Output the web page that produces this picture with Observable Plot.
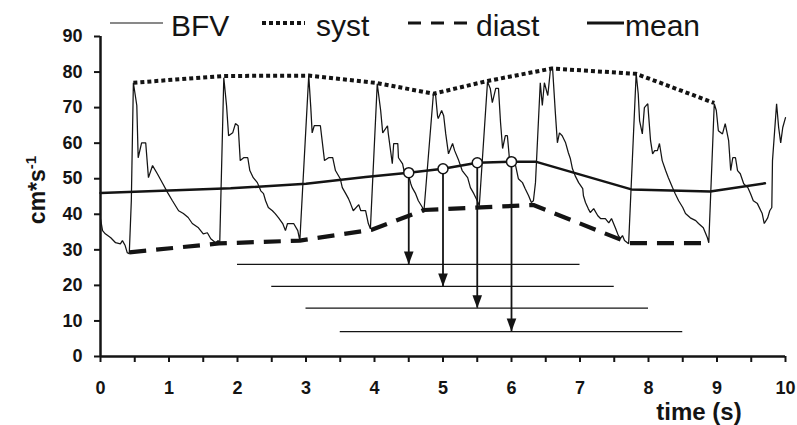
<!DOCTYPE html>
<html><head><meta charset="utf-8">
<script src="https://cdn.jsdelivr.net/npm/d3@7"></script>
<script src="https://cdn.jsdelivr.net/npm/@observablehq/plot@0.6"></script>
<style>
body{margin:0;background:#fff;}
#chart{width:797px;height:425px;}
</style></head><body><div id="chart"></div>
<script>
// ---- data ----
const bfvTime = [0,0.03,0.07,0.15,0.22,0.29,0.32,0.36,0.39,0.42,0.45,0.48,0.53,0.55,0.60,0.66,0.70,0.76,0.83,0.91,0.98,1.05,1.14,1.21,1.28,1.34,1.43,1.50,1.56,1.61,1.68,1.72,1.74,1.80,
1.84,1.87,1.93,1.97,2.01,2.04,2.09,2.15,2.18,2.23,2.29,2.34,2.38,2.41,2.45,2.51,2.55,2.60,2.66,2.70,2.73,2.82,2.88,2.91,3.04,
3.07,3.09,3.12,3.21,3.27,3.33,3.39,3.43,3.50,3.53,3.58,3.62,3.65,3.69,3.77,3.80,3.87,3.91,3.94,4.04,
4.09,4.12,4.19,4.20,4.26,4.28,4.34,4.35,4.41,4.44,4.50,4.53,4.55,4.60,4.64,4.70,4.72,4.86,
4.89,4.92,4.93,4.98,5.01,5.04,5.08,5.14,5.17,5.23,5.28,5.36,5.40,5.45,5.50,5.53,5.65,
5.69,5.72,5.77,5.81,5.84,5.87,5.91,5.94,5.97,6.01,6.06,6.10,6.16,6.20,6.25,6.29,6.32,6.35,6.42,6.45,6.48,6.53,6.57,
6.60,6.64,6.67,6.70,6.74,6.79,6.83,6.86,6.89,6.93,6.98,7.04,7.05,7.08,7.12,7.15,7.20,7.26,7.30,7.37,7.42,7.46,7.52,7.56,7.59,7.62,7.65,7.71,7.82,
7.85,7.87,7.91,7.94,7.99,8.00,8.03,8.06,8.09,8.13,8.16,8.20,8.25,8.29,8.35,8.39,8.44,8.50,8.54,8.61,8.69,8.73,8.80,8.86,8.88,8.96,
8.99,9.02,9.08,9.12,9.17,9.20,9.23,9.27,9.30,9.34,9.39,9.45,9.49,9.53,9.59,9.64,9.66,9.69,9.74,9.77,9.80,9.81,9.87,9.90,9.93,9.96,10.0];
const bfvValue = [38.7,35.4,34.5,33.4,32.0,31.7,32.6,31.2,29.2,28.9,43.8,77.0,70.6,55.9,60.1,60.1,50.3,53.7,51.4,48.6,46.1,43.8,41.0,40.2,39.1,37.4,36.2,34.5,34.8,33.1,32.0,32.6,31.4,78.4,
70.6,62.1,62.9,65.5,64.9,55.1,55.9,55.9,52.3,50.3,48.9,46.6,45.8,43.8,41.9,41.0,40.2,39.0,37.4,35.4,37.4,37.4,35.4,32.6,79.0,
70.0,62.9,64.9,64.9,55.1,55.9,55.9,52.3,50.0,47.5,45.8,44.4,43.0,41.0,42.7,41.0,41.0,37.4,35.9,76.7,
69.2,62.9,64.9,62.9,54.2,59.9,59.9,55.9,54.2,51.4,50.8,48.6,47.5,45.8,43.8,41.9,40.5,73.9,
73.9,67.7,66.9,69.2,67.7,62.6,57.0,59.9,57.9,55.1,52.3,50.3,47.5,45.8,43.8,42.4,77.3,
75.4,71.4,75.4,75.4,65.8,58.5,62.1,62.1,55.6,54.5,53.7,50.0,48.9,47.2,45.2,43.3,43.8,48.9,77.0,70.6,77.0,73.4,81.0,
81.0,68.6,60.1,62.9,62.1,60.1,57.3,55.6,52.8,50.8,48.9,47.2,45.2,43.3,41.6,40.5,41.6,39.6,38.8,38.8,37.6,38.8,36.0,34.0,33.2,34.0,32.6,31.7,79.6,
73.9,66.3,62.6,70.0,71.1,68.3,60.7,57.0,57.9,57.9,59.9,55.1,52.3,50.3,47.5,45.8,43.8,41.9,40.2,39.0,38.2,37.4,36.2,33.4,32.0,71.1,
69.2,63.5,62.6,65.5,60.7,52.3,55.9,55.9,52.3,51.4,48.6,47.5,45.8,43.8,43.0,41.0,40.2,37.4,39.0,41.0,41.9,55.1,71.1,64.4,60.1,64.4,67.2];

const systTime  = [0.48,1.80,3.04,4.04,4.86,5.65,6.59,7.82,8.96];
const systValue = [77.0,78.9,79.0,76.9,73.9,77.5,81.0,79.5,71.3];

const diastTime  = [0.42,1.73,2.91,3.95,4.72,6.32,7.72,8.88];
const diastValue = [29.3,31.8,32.6,35.6,41.2,42.6,31.9,31.9];

const meanTime  = [0,1.9,3.0,3.87,4.5,5.0,5.5,6.0,6.35,7.75,8.9,9.7];
const meanValue = [46.0,47.3,48.6,50.5,51.7,52.8,54.5,54.8,54.8,47.0,46.4,48.7];

// moving windows: centre (circle on the mean), start, end, level of window line
const windowCenter = [4.5,5.0,5.5,6.0];
const windowStart  = [2.0,2.5,3.0,3.5];
const windowEnd    = [7.0,7.5,8.0,8.5];
const windowLevel  = [25.9,19.7,13.6,7.0];
const circleValue  = [51.7,52.8,54.5,54.8];

const yTicks = [0,10,20,30,40,50,60,70,80,90];
const xTicks = [0,0.5,1,1.5,2,2.5,3,3.5,4,4.5,5,5.5,6,6.5,7,7.5,8,8.5,9,9.5,10];

const legendLabels = ["BFV","syst","diast","mean"];

// ---- build tables ----
const pairs = (ts, vs) => ts.map((t, i) => ({t, v: vs[i]}));
const bfv = pairs(bfvTime, bfvValue);
const syst = pairs(systTime, systValue);
const diast = pairs(diastTime, diastValue);
const mean = pairs(meanTime, meanValue);
const windows = windowCenter.map((c, i) => ({c, start: windowStart[i], end: windowEnd[i], level: windowLevel[i], mean: circleValue[i]}));

const ink = "#141414";
const font = "'Liberation Sans', Arial, Helvetica, sans-serif";

// filled arrowhead, tip at the anchor point, pointing down
const arrowHead = {draw(ctx) { ctx.moveTo(0, 0); ctx.lineTo(-4.8, -13); ctx.lineTo(4.8, -13); ctx.closePath(); }};

const plot = Plot.plot({
  width: 797, height: 425,
  marginLeft: 100, marginRight: 12, marginTop: 36, marginBottom: 69,
  x: {domain: [0, 10]},
  y: {domain: [0, 90]},
  style: {fontFamily: font, color: ink, background: "#fff", overflow: "visible"},
  marks: [
    Plot.ruleY(windows, {y: "level", x1: "start", x2: "end", stroke: ink, strokeWidth: 1.3}),
    Plot.line(bfv, {x: "t", y: "v", stroke: ink, strokeWidth: 1.25, strokeLinejoin: "miter"}),
    Plot.line(diast, {x: "t", y: "v", stroke: ink, strokeWidth: 4.2, strokeDasharray: "17,10", strokeLinecap: "butt"}),
    Plot.line(syst, {x: "t", y: "v", stroke: ink, strokeWidth: 4, strokeDasharray: "4,3", strokeLinecap: "butt"}),
    Plot.line(mean, {x: "t", y: "v", stroke: ink, strokeWidth: 2.5}),
    Plot.ruleX(windows, {x: "c", y1: "mean", y2: "level", stroke: ink, strokeWidth: 1.8}),
    Plot.dot(windows, {x: "c", y: "level", symbol: arrowHead, fill: ink, stroke: "none"}),
    Plot.dot(windows, {x: "c", y: "mean", r: 5, fill: "white", stroke: ink, strokeWidth: 1.5}),
    Plot.axisY({ticks: yTicks, tickSize: 6, tickPadding: 12, fontSize: 18, fontWeight: "bold", strokeWidth: 2, label: null}),
    Plot.axisX({ticks: xTicks, tickSize: 6, tickPadding: 19, fontSize: 18, fontWeight: "bold", strokeWidth: 2, label: null,
                tickFormat: d => Number.isInteger(d) ? String(d) : ""}),
    Plot.ruleX([0], {y1: 0, y2: 90, stroke: ink, strokeWidth: 2.5}),
    Plot.ruleY([0], {x1: 0, x2: 10, stroke: ink, strokeWidth: 2.5})
  ]
});
document.getElementById("chart").appendChild(plot);

// ---- axis titles and legend ----
const svg = d3.select(plot);
const yl = svg.append("text")
  .attr("transform", "translate(45,190) rotate(-90)")
  .attr("text-anchor", "middle")
  .attr("font-family", font).attr("font-weight", "bold").attr("font-size", 23).attr("fill", ink);
yl.append("tspan").text("cm*s");
yl.append("tspan").attr("dy", -9).attr("font-size", 15).text("-1");

svg.append("text").attr("x", 699).attr("y", 420).attr("text-anchor", "middle")
  .attr("font-family", font).attr("font-weight", "bold").attr("font-size", 24).attr("fill", ink)
  .text("time (s)");

const legendItems = [
  {label: legendLabels[0], x1: 110, x2: 163, tx: 171, w: 1.1, dash: null},
  {label: legendLabels[1], x1: 262, x2: 305, tx: 316, w: 4, dash: "4,3"},
  {label: legendLabels[2], x1: 408, x2: 468, tx: 476, w: 3, dash: "13,10"},
  {label: legendLabels[3], x1: 587, x2: 624, tx: 625, w: 3, dash: null}
];
const lg = svg.append("g");
for (const it of legendItems) {
  const ln = lg.append("line").attr("x1", it.x1).attr("x2", it.x2).attr("y1", 23).attr("y2", 23)
    .attr("stroke", ink).attr("stroke-width", it.w).attr("stroke-linecap", "butt");
  if (it.dash) ln.attr("stroke-dasharray", it.dash);
  lg.append("text").attr("x", it.tx).attr("y", 36).attr("text-anchor", "start")
    .attr("font-family", font).attr("font-size", 30).attr("fill", ink).text(it.label);
}
</script>
</body></html>
